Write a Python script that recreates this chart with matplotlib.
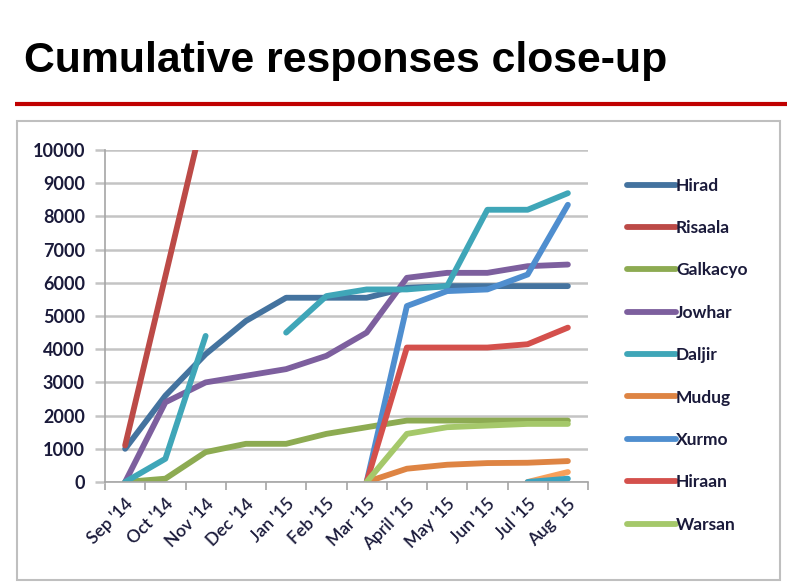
import numpy as np
import matplotlib
matplotlib.use("Agg")
import matplotlib.pyplot as plt
from matplotlib.patches import Rectangle
from matplotlib.lines import Line2D

nan = np.nan
months = ["Sep '14", "Oct '14", "Nov '14", "Dec '14", "Jan '15", "Feb '15",
          "Mar '15", "April '15", "May '15", "Jun '15", "Jul '15", "Aug '15"]

hirad    = [1000, 2600, 3850, 4850, 5550, 5550, 5550, 5850, 5900, 5900, 5900, 5900]
risaala  = [1100, 6200, 11300, nan, nan, nan, nan, nan, nan, nan, nan, nan]
galkacyo = [0, 100, 900, 1150, 1150, 1450, 1650, 1850, 1850, 1850, 1850, 1850]
jowhar   = [0, 2400, 3000, 3200, 3400, 3800, 4500, 6150, 6300, 6300, 6500, 6550]
daljir   = [0, 700, 4400, nan, 4500, 5600, 5800, 5800, 5900, 8200, 8200, 8700]
mudug    = [nan, nan, nan, nan, nan, nan, 0, 400, 520, 570, 580, 630]
xurmo    = [nan, nan, nan, nan, nan, nan, 0, 5300, 5750, 5800, 6250, 8350]
hiraan   = [nan, nan, nan, nan, nan, nan, 0, 4050, 4050, 4050, 4150, 4650]
warsan   = [nan, nan, nan, nan, nan, nan, 0, 1450, 1650, 1700, 1750, 1750]
extra_orange = [nan, nan, nan, nan, nan, nan, nan, nan, nan, nan, 0, 300]
extra_teal   = [nan, nan, nan, nan, nan, nan, nan, nan, nan, nan, 0, 100]

series = [
    ("Hirad", hirad, "#44739F"),
    ("Risaala", risaala, "#BC4A47"),
    ("Galkacyo", galkacyo, "#8DAB52"),
    ("Jowhar", jowhar, "#7D5F9E"),
    ("Daljir", daljir, "#3FA6B8"),
    ("Mudug", mudug, "#DE8443"),
    ("Xurmo", xurmo, "#4F8ECF"),
    ("Hiraan", hiraan, "#D4504C"),
    ("Warsan", warsan, "#A5C86A"),
    ("_extra1", extra_orange, "#F9A05A"),
    ("_extra2", extra_teal, "#3BA3C0"),
]

W, H = 800, 587
fig = plt.figure(figsize=(8, 5.87), dpi=100)

def fx(px):
    return px / W

def fy(py):
    return 1 - py / H

# title and red rule
fig.text(fx(24), fy(61), "Cumulative responses close-up", fontsize=30.8,
         fontweight="bold", family="Liberation Sans", ha="left", va="center",
         color="black")
fig.add_artist(Line2D([fx(15), fx(787)], [fy(104), fy(104)], color="#C00000",
                      lw=3, solid_capstyle="butt"))
# chart frame
fig.add_artist(Rectangle((fx(17), fy(580)), fx(780) - fx(17), fy(121) - fy(580),
                         fill=False, edgecolor="#BFBFBF", lw=1.5))

ax = fig.add_axes([fx(105), fy(482), fx(588) - fx(105), fy(150) - fy(482)])
x = np.arange(len(months))
for name, vals, col in series:
    ax.plot(x, vals, color=col, lw=4.2, label=name, solid_capstyle="round",
            solid_joinstyle="round")

ax.set_xlim(-0.5, len(months) - 0.5)
ax.set_ylim(0, 10000)
ax.set_yticks(np.arange(0, 10001, 1000))
ax.grid(axis="y", color="#C4C4C4", lw=1.8)
ax.set_axisbelow(True)
for s in ["top", "right"]:
    ax.spines[s].set_visible(False)
for s in ["left", "bottom"]:
    ax.spines[s].set_color("#A6A6A6")
    ax.spines[s].set_linewidth(1.2)

tick_font = dict(family="Lato", fontsize=12.5, color="#1A1A3A")
ax.set_xticks(x)
ax.set_xticklabels(months, rotation=45, ha="right", va="top",
                   rotation_mode="anchor", **tick_font)
ax.tick_params(axis="x", which="major", length=0, pad=10)
ax.set_xticks(np.arange(-0.5, len(months)), minor=True)
ax.tick_params(axis="x", which="minor", length=6, color="#A6A6A6", width=1.2)
ax.set_yticklabels([str(v) for v in range(0, 10001, 1000)],
                   family="Lato", fontsize=13, color="#1A1A3A")
ax.tick_params(axis="y", length=7, color="#C4C4C4", width=1.8, pad=7.5)
for lbl in ax.get_yticklabels():
    lbl.set_fontweight("bold")
for lbl in ax.get_xticklabels():
    lbl.set_fontweight("semibold")

leg = ax.legend(loc="upper left", bbox_to_anchor=(fx(611), fy(162)),
                bbox_transform=fig.transFigure, frameon=False,
                handlelength=2.85, handletextpad=0.0, labelspacing=1.52,
                prop=dict(family="Lato", size=12.5, weight="bold"))
for t in leg.get_texts():
    t.set_color("#1A1A3A")

fig.savefig("out.png", dpi=100)
